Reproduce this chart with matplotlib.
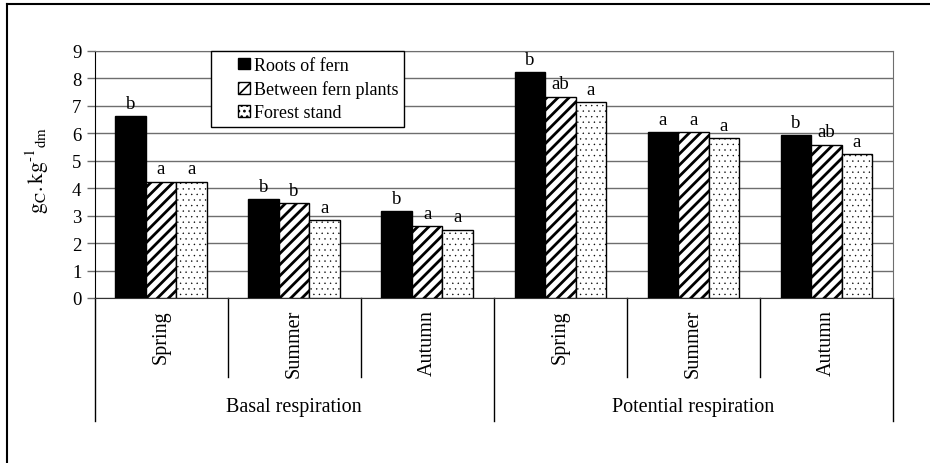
import matplotlib
matplotlib.use("Agg")

import matplotlib.pyplot as plt
import matplotlib.patches as mpatches
from matplotlib.legend_handler import HandlerPatch
from matplotlib.lines import Line2D
import numpy as np

# data
groups = ["Basal respiration", "Potential respiration"]
seasons = ["Spring", "Summer", "Autumn"] * 2
series_names = ["Roots of fern", "Between fern plants", "Forest stand"]
roots = [6.63, 3.61, 3.17, 8.22, 6.04, 5.94]
between = [4.24, 3.46, 2.63, 7.34, 6.04, 5.59]
forest = [4.24, 2.83, 2.49, 7.15, 5.83, 5.25]
letters_roots = ["b", "b", "b", "b", "a", "b"]
letters_between = ["a", "b", "a", "ab", "a", "ab"]
letters_forest = ["a", "a", "a", "a", "a", "a"]

plt.rcParams["font.family"] = ["Liberation Serif", "DejaVu Serif"]
plt.rcParams["mathtext.fontset"] = "stix"

W, H = 930, 464
fig = plt.figure(figsize=(W / 100, H / 100), dpi=100)
ax = fig.add_axes([94.5 / W, 1 - 299 / H, (893 - 94.5) / W, (299 - 52) / H])

grid_col = "#6e6e6e"
x = np.arange(len(seasons))
bw = 0.229

styles = [
    dict(facecolor="black", hatch=None, hlw=1.0),
    dict(facecolor="white", hatch="///", hlw=2.0),
    dict(facecolor="white", hatch="...", hlw=0.25),
]
series = [roots, between, forest]
letters = [letters_roots, letters_between, letters_forest]

handles = []
for i, (vals, st, labs) in enumerate(zip(series, styles, letters)):
    plt.rcParams["hatch.linewidth"] = st["hlw"]
    bars = ax.bar(x + (i - 1) * bw, vals, bw, facecolor=st["facecolor"],
                  edgecolor="black", linewidth=1.0, hatch=st["hatch"], zorder=3)
    for b in bars:
        if hasattr(b, "set_hatch_linewidth"):
            b.set_hatch_linewidth(st["hlw"])
    handles.append(bars[0])
    for xi, v, t in zip(x + (i - 1) * bw, vals, labs):
        ax.annotate(t, (xi, v), xytext=(0, 3), textcoords="offset points",
                    ha="center", va="bottom", fontsize=13.5)

ax.set_xlim(-0.5, len(seasons) - 0.5)
ax.set_ylim(0, 9)
ax.set_yticks(range(10))
ax.set_xticks([])
ax.yaxis.grid(True, color=grid_col, linewidth=1.0)
ax.set_axisbelow(True)
ax.tick_params(axis="y", direction="out", length=5.5, width=1.0,
               color=grid_col, labelsize=13.5, pad=4)
ax.spines["left"].set_color("black")
ax.spines["bottom"].set_color("#333333")
for s in ("top", "right"):
    ax.spines[s].set_color(grid_col)

# multi-level category axis
tr = ax.get_xaxis_transform()
for k, name in enumerate(seasons):
    ax.text(k, -0.045, name, transform=tr, rotation=90, ha="center", va="top",
            fontsize=14.5)
for b in np.arange(-0.5, len(seasons), 1.0):
    long_line = (b + 0.5) % 3 == 0
    y1 = -0.497 if long_line else -0.319
    ax.add_line(Line2D([b, b], [0, y1], transform=tr, color="black",
                       linewidth=1.0, clip_on=False))
for g, name in enumerate(groups):
    ax.text(g * 3 + 1, -0.441, name, transform=tr, ha="center", va="center",
            fontsize=14.5)

fig.text(37 / W, 1 - 170 / H, r"$\mathrm{g_{C}.kg^{\text{-1}}{}_{dm}}$", rotation=90,
         ha="center", va="center", fontsize=15.5)


def small_box(legend, orig_handle, xdescent, ydescent, width, height, fontsize):
    s = 0.66 * fontsize
    return mpatches.Rectangle((-xdescent + width - s, -ydescent + (height - s) / 2), s, s)


plt.rcParams["hatch.linewidth"] = 1.2
leg = ax.legend(handles, series_names, loc="upper left",
                bbox_to_anchor=(211 / W, 1 - 52 / H), bbox_transform=fig.transFigure,
                borderaxespad=0, fontsize=13, frameon=True, fancybox=False,
                framealpha=1, edgecolor="black", handlelength=1.85,
                handleheight=0.7, handletextpad=0.2, labelspacing=0.35,
                borderpad=0.32,
                handler_map={mpatches.Rectangle: HandlerPatch(patch_func=small_box)})
leg.get_frame().set_linewidth(1.0)
leg.set_zorder(5)

# outer border (left and top only visible)
fig.add_artist(Line2D([6.5 / W, 6.5 / W], [0, 1 - 5 / H], color="black",
                      linewidth=1.5, transform=fig.transFigure))
fig.add_artist(Line2D([6.5 / W, 1], [1 - 5 / H, 1 - 5 / H], color="black",
                      linewidth=1.5, transform=fig.transFigure))

fig.savefig("out.png", dpi=100, facecolor="white")
